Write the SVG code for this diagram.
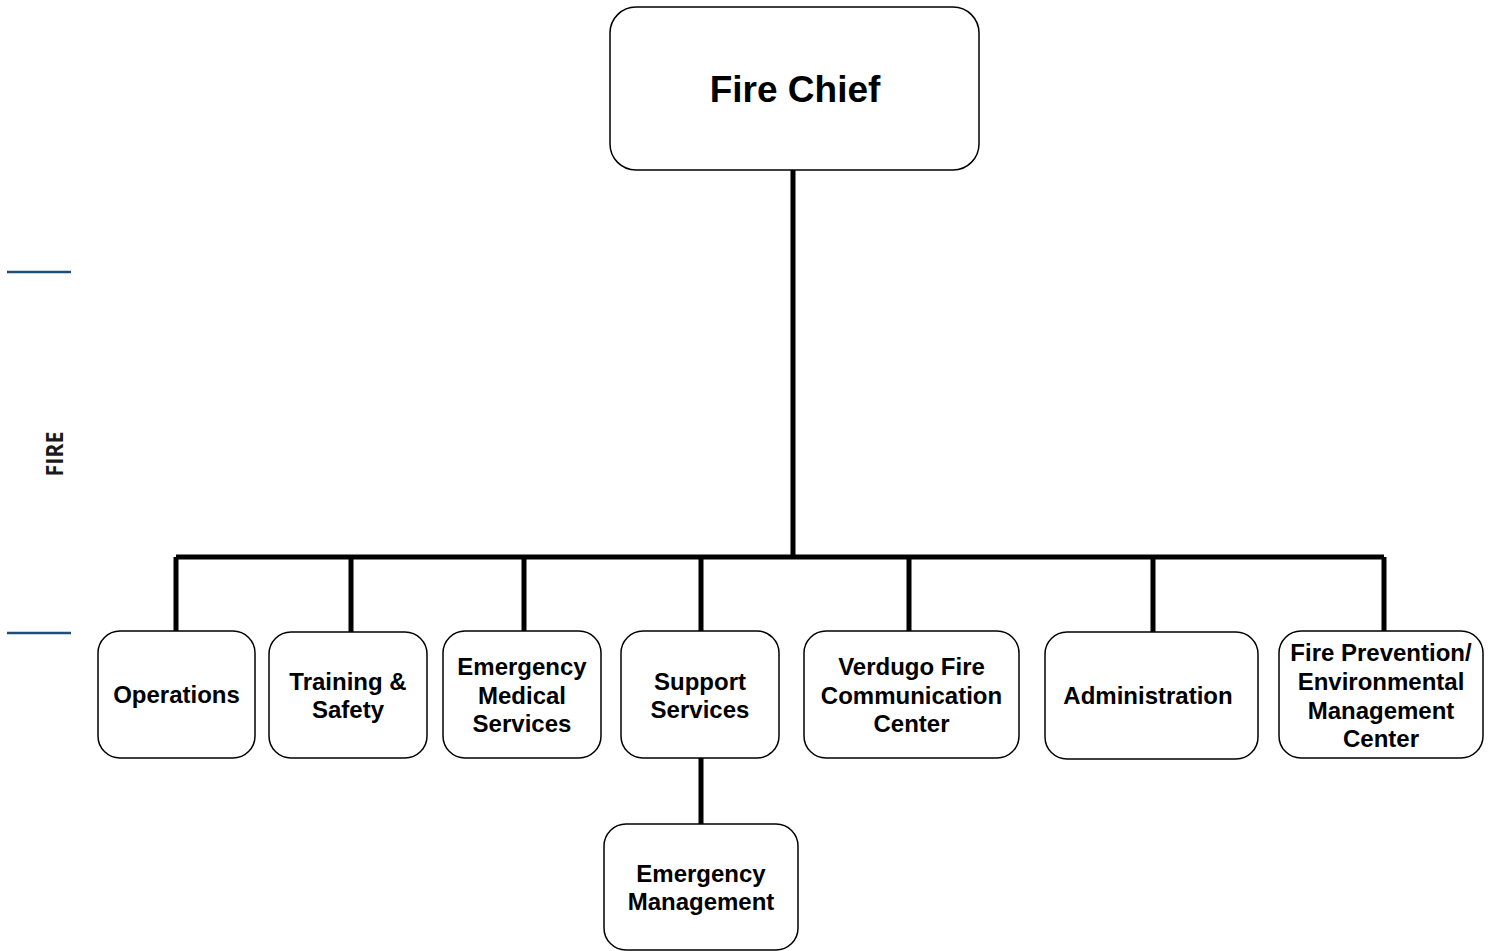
<svg xmlns="http://www.w3.org/2000/svg" width="1493" height="951" viewBox="0 0 1493 951">
<style>
.box{fill:#fff;stroke:#000;stroke-width:1.5}
.t{font-family:"Liberation Sans",Arial,sans-serif;font-weight:bold;font-size:24px;text-anchor:middle;fill:#000}
.conn{stroke:#000;stroke-width:5;fill:none}
.rule{stroke:#1f4e79;stroke-width:2.5}
</style>
<rect width="1493" height="951" fill="#fff"/>
<line class="rule" x1="7" y1="272" x2="71" y2="272"/>
<line class="rule" x1="7" y1="633" x2="71" y2="633"/>
<text x="0" y="0" transform="translate(63,454) rotate(-90)" textLength="45" lengthAdjust="spacingAndGlyphs" style="font-family:'Open Sans','DejaVu Sans',sans-serif;font-weight:bold;font-size:23px;text-anchor:middle;fill:#1a1a1a">FIRE</text>
<g id="connectors">
<path class="conn" d="M793 170 V557 M176 557 H1384 M176 557 V631 M351 557 V632 M524 557 V631 M701 557 V631 M909 557 V631 M1153 557 V632 M1384 557 V631 M701 758 V824"/>
</g>
<g id="fire-chief"><rect class="box" x="610" y="7" width="369" height="163" rx="26"/><text class="t" x="795" y="102" style="font-size:37px">Fire Chief</text></g>
<g id="operations"><rect class="box" x="98" y="631" width="157" height="127" rx="22"/><text class="t" x="176.5" y="703">Operations</text></g>
<g id="training"><rect class="box" x="269" y="632" width="158" height="126" rx="22"/><text class="t" x="348" y="690">Training &amp;</text><text class="t" x="348" y="718">Safety</text></g>
<g id="ems"><rect class="box" x="443" y="631" width="158" height="127" rx="22"/><text class="t" x="522" y="675">Emergency</text><text class="t" x="522" y="704">Medical</text><text class="t" x="522" y="732">Services</text></g>
<g id="support"><rect class="box" x="621" y="631" width="158" height="127" rx="22"/><text class="t" x="700" y="690">Support</text><text class="t" x="700" y="718">Services</text></g>
<g id="verdugo"><rect class="box" x="804" y="631" width="215" height="127" rx="22"/><text class="t" x="911.5" y="675">Verdugo Fire</text><text class="t" x="911.5" y="704">Communication</text><text class="t" x="911.5" y="732">Center</text></g>
<g id="administration"><rect class="box" x="1045" y="632" width="213" height="127" rx="22"/><text class="t" x="1148" y="704">Administration</text></g>
<g id="fire-prevention"><rect class="box" x="1279" y="631" width="204" height="127" rx="22"/><text class="t" x="1381" y="661">Fire Prevention/</text><text class="t" x="1381" y="690">Environmental</text><text class="t" x="1381" y="719">Management</text><text class="t" x="1381" y="747">Center</text></g>
<g id="emergency-management"><rect class="box" x="604" y="824" width="194" height="126" rx="22"/><text class="t" x="701" y="882">Emergency</text><text class="t" x="701" y="910">Management</text></g>
</svg>
